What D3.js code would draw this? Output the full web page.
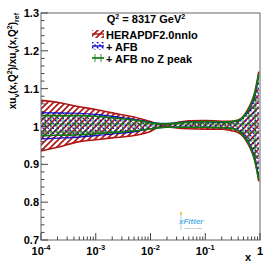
<!DOCTYPE html>
<html>
<head>
<meta charset="utf-8">
<script src="https://cdn.jsdelivr.net/npm/d3@7"></script>
<style>
  body { margin: 0; background: #fff; }
  svg { display: block; font-family: "Liberation Sans", Arial, sans-serif; font-weight: bold; }
</style>
</head>
<body>
<svg id="chart" width="274" height="266"></svg>
<script>
// x grid shared by all bands
const xValues = [1e-4, 2e-4, 5e-4, 1e-3, 2e-3, 5e-3, 0.01, 0.015, 0.02, 0.03, 0.05, 0.1, 0.2, 0.3, 0.4, 0.5, 0.6, 0.7, 0.8, 0.9, 0.95];

// HERAPDF2.0nnlo band
const heraUp = [1.069, 1.064, 1.052, 1.045, 1.036, 1.025, 1.013, 1.005, 1.005, 1.010, 1.015, 1.016, 1.014, 1.014, 1.017, 1.028, 1.045, 1.065, 1.090, 1.125, 1.145];
const heraLo = [0.935, 0.945, 0.960, 0.965, 0.970, 0.976, 0.987, 0.999, 0.999, 0.996, 0.994, 0.993, 0.993, 0.989, 0.984, 0.972, 0.955, 0.935, 0.910, 0.875, 0.855];

// + AFB band
const afbUp = [1.036, 1.036, 1.035, 1.032, 1.027, 1.019, 1.011, 1.008, 1.008, 1.010, 1.012, 1.012, 1.011, 1.012, 1.015, 1.024, 1.038, 1.056, 1.080, 1.115, 1.135];
const afbLo = [0.967, 0.969, 0.972, 0.976, 0.980, 0.986, 0.994, 0.997, 0.998, 0.998, 0.998, 0.998, 0.997, 0.996, 0.990, 0.978, 0.962, 0.943, 0.918, 0.885, 0.865];

// + AFB no Z peak band
const noZUp = [1.029, 1.029, 1.029, 1.027, 1.023, 1.017, 1.010, 1.007, 1.007, 1.009, 1.012, 1.013, 1.012, 1.013, 1.016, 1.026, 1.042, 1.062, 1.087, 1.122, 1.140];
const noZLo = [0.976, 0.977, 0.978, 0.981, 0.984, 0.988, 0.994, 0.997, 0.998, 0.998, 0.998, 0.998, 0.997, 0.995, 0.989, 0.975, 0.958, 0.937, 0.912, 0.877, 0.858];

const yTicks = [0.7, 0.8, 0.9, 1, 1.1, 1.2, 1.3];
const yTickLabels = ['0.7', '0.8', '0.9', '1', '1.1', '1.2', '1.3'];
const xTicks = [1e-4, 1e-3, 1e-2, 1e-1, 1];
const xTickExp = ['-4', '-3', '-2', '-1', ''];

const legendLabels = ['HERAPDF2.0nnlo', '+ AFB', '+ AFB no Z peak'];

const margin = { top: 13, right: 14, bottom: 26, left: 41 };
const width = 274;
const height = 266;

const svg = d3.select('#chart');

const xScale = d3.scaleLog()
  .domain([1e-4, 1])
  .range([margin.left, width - margin.right]);

const yScale = d3.scaleLinear()
  .domain([0.7, 1.3])
  .range([height - margin.bottom, margin.top]);

// hatch patterns
const defs = svg.append('defs');

const red = '#b01414';
const blue = '#0a0acc';
const green = '#0a7a0a';

defs.append('pattern')
  .attr('id', 'hatchRed')
  .attr('patternUnits', 'userSpaceOnUse')
  .attr('width', 6)
  .attr('height', 6)
  .append('path')
  .attr('d', 'M-1,1 l2,-2 M0,6 l6,-6 M5,7 l2,-2')
  .attr('stroke', red)
  .attr('stroke-width', 1.6);

const pBlue = defs.append('pattern')
  .attr('id', 'hatchBlue')
  .attr('patternUnits', 'userSpaceOnUse')
  .attr('width', 5)
  .attr('height', 5);
pBlue.append('path')
  .attr('d', 'M0,0 l5,5 M-1,4 l2,2 M4,-1 l2,2')
  .attr('stroke', blue)
  .attr('stroke-width', 1.3)
  .attr('stroke-dasharray', '2,1.5');

const pGreen = defs.append('pattern')
  .attr('id', 'hatchGreen')
  .attr('patternUnits', 'userSpaceOnUse')
  .attr('width', 6)
  .attr('height', 8);
pGreen.append('path')
  .attr('d', 'M3,0 v8 M0,4 h6')
  .attr('stroke', green)
  .attr('stroke-width', 0.8);

const rows = (up, lo) => xValues.map((x, i) => ({ x, up: up[i], lo: lo[i] }));

const bands = [
  { key: 'hera', data: rows(heraUp, heraLo), fill: 'url(#hatchRed)', stroke: red },
  { key: 'afb', data: rows(afbUp, afbLo), fill: 'url(#hatchBlue)', stroke: blue },
  { key: 'noz', data: rows(noZUp, noZLo), fill: 'url(#hatchGreen)', stroke: green },
];

const area = d3.area()
  .curve(d3.curveMonotoneX)
  .x((d) => xScale(d.x))
  .y0((d) => yScale(d.lo))
  .y1((d) => yScale(d.up));

const lineUp = d3.line().curve(d3.curveMonotoneX).x((d) => xScale(d.x)).y((d) => yScale(d.up));
const lineLo = d3.line().curve(d3.curveMonotoneX).x((d) => xScale(d.x)).y((d) => yScale(d.lo));

const gBands = svg.append('g')
  .selectAll('g')
  .data(bands)
  .enter()
  .append('g');

gBands.append('path')
  .attr('d', (band) => area(band.data))
  .attr('fill', (band) => band.fill);

gBands.append('path')
  .attr('d', (band) => lineUp(band.data))
  .attr('fill', 'none')
  .attr('stroke', (band) => band.stroke)
  .attr('stroke-width', (band) => (band.key === 'afb' ? 1.2 : 1.6));

gBands.append('path')
  .attr('d', (band) => lineLo(band.data))
  .attr('fill', 'none')
  .attr('stroke', (band) => band.stroke)
  .attr('stroke-width', (band) => (band.key === 'afb' ? 1.2 : 1.6));

// frame
svg.append('rect')
  .attr('x', margin.left)
  .attr('y', margin.top)
  .attr('width', width - margin.left - margin.right)
  .attr('height', height - margin.top - margin.bottom)
  .attr('fill', 'none')
  .attr('stroke', '#666')
  .attr('stroke-width', 1);

// y axis ticks
const yMinor = d3.range(0.72, 1.3, 0.02).filter((v) => Math.abs(v * 10 - Math.round(v * 10)) > 0.01);
const gy = svg.append('g');
gy.selectAll('line.maj')
  .data(yTicks)
  .enter()
  .append('line')
  .attr('x1', margin.left)
  .attr('x2', margin.left + 7)
  .attr('y1', (d) => yScale(d))
  .attr('y2', (d) => yScale(d))
  .attr('stroke', '#444');
gy.selectAll('line.min')
  .data(yMinor)
  .enter()
  .append('line')
  .attr('x1', margin.left)
  .attr('x2', margin.left + 3.5)
  .attr('y1', (d) => yScale(d))
  .attr('y2', (d) => yScale(d))
  .attr('stroke', '#444');
gy.selectAll('text')
  .data(yTicks)
  .enter()
  .append('text')
  .attr('x', margin.left - 2)
  .attr('y', (d) => yScale(d) + 4)
  .attr('text-anchor', 'end')
  .attr('font-size', 11)
  .text((d, i) => yTickLabels[i]);

// x axis ticks
const xMinor = [];
[1e-4, 1e-3, 1e-2, 1e-1].forEach((dec) => {
  for (let m = 2; m <= 9; m += 1) xMinor.push(dec * m);
});
const yBase = height - margin.bottom;
const gx = svg.append('g');
gx.selectAll('line.maj')
  .data(xTicks)
  .enter()
  .append('line')
  .attr('x1', (d) => xScale(d))
  .attr('x2', (d) => xScale(d))
  .attr('y1', yBase)
  .attr('y2', yBase - 7)
  .attr('stroke', '#444');
gx.selectAll('line.min')
  .data(xMinor)
  .enter()
  .append('line')
  .attr('x1', (d) => xScale(d))
  .attr('x2', (d) => xScale(d))
  .attr('y1', yBase)
  .attr('y2', yBase - 3.5)
  .attr('stroke', '#444');

const xLabels = gx.selectAll('text')
  .data(xTicks)
  .enter()
  .append('text')
  .attr('x', (d) => xScale(d))
  .attr('y', yBase + 15)
  .attr('text-anchor', 'middle')
  .attr('font-size', 11);
xLabels.each(function (d, i) {
  const t = d3.select(this);
  if (xTickExp[i] === '') {
    t.text('1');
  } else {
    t.append('tspan').text('10');
    t.append('tspan').attr('font-size', 7.5).attr('dy', -5).text(xTickExp[i]);
  }
});

svg.append('text')
  .attr('x', 248)
  .attr('y', 261)
  .attr('text-anchor', 'middle')
  .attr('font-size', 11)
  .text('x');

// y title
const yTitle = svg.append('text')
  .attr('transform', `translate(16,${margin.top}) rotate(-90)`)
  .attr('text-anchor', 'end')
  .attr('font-size', 10);
yTitle.append('tspan').text('xu');
yTitle.append('tspan').attr('font-size', 7).attr('dy', 2.5).text('v');
yTitle.append('tspan').attr('dy', -2.5).text('(x,Q');
yTitle.append('tspan').attr('font-size', 7).attr('dy', -4).text('2');
yTitle.append('tspan').attr('dy', 4).text(')/xu');
yTitle.append('tspan').attr('font-size', 7).attr('dy', 2.5).text('v');
yTitle.append('tspan').attr('dy', -2.5).text('(x,Q');
yTitle.append('tspan').attr('font-size', 7).attr('dy', -4).text('2');
yTitle.append('tspan').attr('dy', 4).text(')');
yTitle.append('tspan').attr('font-size', 7).attr('dy', 2.5).text('ref');

// legend
const q2 = svg.append('text')
  .attr('x', 146)
  .attr('y', 23)
  .attr('text-anchor', 'middle')
  .attr('font-size', 11);
q2.append('tspan').text('Q');
q2.append('tspan').attr('font-size', 7).attr('dy', -4.5).text('2');
q2.append('tspan').attr('dy', 4.5).text(' = 8317 GeV');
q2.append('tspan').attr('font-size', 7).attr('dy', -4.5).text('2');

const legend = svg.append('g')
  .selectAll('g')
  .data(bands)
  .enter()
  .append('g')
  .attr('transform', (d, i) => `translate(92,${30 + i * 12})`);

legend.append('rect')
  .attr('x', 0)
  .attr('y', 0)
  .attr('width', 12)
  .attr('height', 8)
  .attr('fill', (d) => d.fill);
legend.append('line')
  .attr('x1', 0)
  .attr('x2', 12)
  .attr('y1', 4)
  .attr('y2', 4)
  .attr('stroke', (d) => d.stroke)
  .attr('stroke-width', 1.4);
legend.append('text')
  .attr('x', 14)
  .attr('y', 8.5)
  .attr('font-size', 11)
  .text((d, i) => legendLabels[i]);

// xFitter logo
const logo = svg.append('g').attr('transform', 'translate(177,212)');
logo.append('rect').attr('x', 3).attr('y', 0).attr('width', 2).attr('height', 3).attr('fill', '#f5c842');
logo.append('line').attr('x1', 4).attr('x2', 4).attr('y1', 3).attr('y2', 18).attr('stroke', '#8fc8ea').attr('stroke-width', 0.8);
logo.append('text')
  .attr('x', 2)
  .attr('y', 12)
  .attr('font-size', 8)
  .attr('font-style', 'italic')
  .attr('fill', '#5ab4e8')
  .text('xFitter');
logo.append('text')
  .attr('x', 7)
  .attr('y', 17)
  .attr('font-size', 2.5)
  .attr('font-weight', 'normal')
  .attr('fill', '#777')
  .text('LOGO by pKabi');
</script>
</body>
</html>
